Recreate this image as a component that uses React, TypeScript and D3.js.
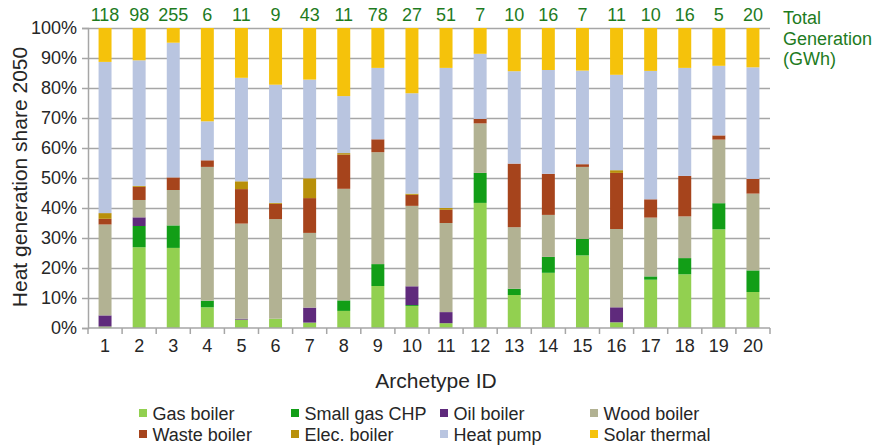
import React, { useRef, useEffect } from 'react';
import * as d3 from 'd3';

const archetypes = d3.range(1, 21).map(String);
const totals = [118, 98, 255, 6, 11, 9, 43, 11, 78, 27, 51, 7, 10, 16, 7, 11, 10, 16, 5, 20];

// shares in %
const gasBoiler = [0.5, 27, 26.7, 6.9, 2.8, 3.1, 1.8, 5.7, 14, 7.4, 1.6, 41.7, 11, 18.4, 24.2, 1.9, 16.1, 17.9, 32.9, 12];
const smallGasChp = [0, 7.1, 7.5, 2.2, 0, 0, 0, 3.5, 7.3, 0.3, 0, 10, 2.1, 5.3, 5.5, 0, 1.1, 5.4, 8.7, 7.2];
const oilBoiler = [3.7, 2.9, 0, 0, 0.3, 0, 5, 0, 0, 6.3, 3.7, 0, 0, 0, 0, 5, 0, 0, 0, 0];
const woodBoiler = [30.3, 5.8, 11.8, 44.6, 31.7, 33.2, 24.9, 37.2, 37.3, 27, 29.7, 16.5, 20.5, 14, 24, 26.1, 19.6, 13.9, 21.2, 25.6];
const wasteBoiler = [1.9, 4.4, 4.2, 2.2, 11.5, 5.1, 11.6, 11.4, 4.3, 3.7, 4.4, 1.5, 21.2, 13.7, 0.9, 18.7, 6.1, 13.5, 1.4, 4.9];
const elecBoiler = [1.9, 0.3, 0, 0, 2.6, 0.3, 6.6, 0.5, 0, 0.4, 0.6, 0, 0, 0, 0, 0.9, 0, 0, 0, 0];
const heatPump = [50.4, 42, 44.9, 13, 34.5, 39.4, 32.9, 19, 23.8, 33.7, 46.7, 21.7, 30.8, 34.6, 31.2, 31.8, 42.8, 36, 23.2, 37.2];
const solarThermal = [11.3, 10.8, 4.9, 31.1, 16.6, 18.9, 17.2, 22.7, 13.3, 21.9, 13.3, 8.6, 14.4, 14, 14.2, 15.6, 14.3, 13.3, 12.6, 13.1];

const seriesNames = ['Gas boiler', 'Small gas CHP', 'Oil boiler', 'Wood boiler', 'Waste boiler', 'Elec. boiler', 'Heat pump', 'Solar thermal'];
const seriesValues = [gasBoiler, smallGasChp, oilBoiler, woodBoiler, wasteBoiler, elecBoiler, heatPump, solarThermal];
const seriesColors = ['#92D050', '#129E17', '#5F2A7C', '#B2B293', '#A6441C', '#B8900A', '#B9C5E0', '#F5C20B'];

const FONT = '"Liberation Sans", Arial, sans-serif';
const TEXT = '#262626';
const GRID = '#A6A6A6';
const GREEN = '#1E7B1E';

export default function App() {
    const chartRef = useRef(null);
    const width = 880, height = 447;

    useEffect(() => {
        const margin = { top: 28, right: 110, bottom: 119, left: 88 };
        const svg = d3.select(chartRef.current);
        svg.selectAll('*').remove();

        const x = d3.scaleBand()
            .domain(archetypes)
            .range([margin.left, width - margin.right])
            .paddingInner(0.62)
            .paddingOuter(0.31);

        const y = d3.scaleLinear()
            .domain([0, 1])
            .range([height - margin.bottom, margin.top]);

        const rows = archetypes.map((a, i) => {
            const r: any = { id: a };
            seriesNames.forEach((s, j) => { r[s] = seriesValues[j][i]; });
            return r;
        });
        const stacked = d3.stack().keys(seriesNames).offset(d3.stackOffsetExpand)(rows);

        // gridlines + y axis
        const yAxis = d3.axisLeft(y).tickValues(d3.range(0, 1.01, 0.1))
            .tickFormat(d3.format('.0%'))
            .tickSize(6).tickPadding(5);
        const gy = svg.append('g').attr('transform', `translate(${margin.left},0)`).call(yAxis);
        gy.select('.domain').attr('stroke', GRID).attr('stroke-width', 1.5);
        gy.selectAll('.tick line').attr('stroke', GRID).attr('stroke-width', 1.5);
        gy.selectAll('.tick text').attr('fill', TEXT).style('font-size', '18px').style('font-family', FONT);
        gy.selectAll('.tick').filter((d: any) => d > 0).append('line')
            .attr('x1', 0).attr('x2', width - margin.right - margin.left)
            .attr('stroke', GRID).attr('stroke-width', 1.5);

        // bars
        svg.append('g').selectAll('g').data(stacked).join('g')
            .attr('fill', (d, i) => seriesColors[i])
            .selectAll('rect').data(d => d).join('rect')
            .attr('x', (d: any) => x(d.data.id))
            .attr('width', x.bandwidth())
            .attr('y', d => y(d[1]))
            .attr('height', d => Math.max(0, y(d[0]) - y(d[1])));

        // x axis with ticks at band boundaries
        const xEdge = d3.scaleLinear().domain([0, 20]).range([margin.left, width - margin.right]);
        const gx = svg.append('g').attr('transform', `translate(0,${height - margin.bottom})`);
        gx.append('line').attr('x1', margin.left).attr('x2', width - margin.right)
            .attr('stroke', GRID).attr('stroke-width', 1.5);
        gx.selectAll('line.tk').data(d3.range(0, 21)).join('line').attr('class', 'tk')
            .attr('x1', d => xEdge(d)).attr('x2', d => xEdge(d))
            .attr('y1', 0).attr('y2', 6)
            .attr('stroke', GRID).attr('stroke-width', 1.5);
        gx.selectAll('text').data(archetypes).join('text')
            .attr('x', d => x(d)! + x.bandwidth() / 2)
            .attr('y', 24)
            .attr('text-anchor', 'middle')
            .attr('fill', TEXT)
            .style('font-size', '18px').style('font-family', FONT)
            .text(d => d);

        // totals
        svg.append('g').selectAll('text').data(totals).join('text')
            .attr('x', (d, i) => x(archetypes[i])! + x.bandwidth() / 2)
            .attr('y', 21)
            .attr('text-anchor', 'middle')
            .attr('fill', GREEN)
            .style('font-size', '18px').style('font-family', FONT)
            .text(d => d);

        svg.append('text')
            .attr('x', 783).attr('y', 24)
            .attr('fill', GREEN)
            .style('font-size', '18px').style('font-family', FONT)
            .selectAll('tspan').data(['Total', 'Generation', '(GWh)']).join('tspan')
            .attr('x', 783).attr('dy', (d, i) => i === 0 ? 0 : 20.5)
            .text(d => d);

        // axis titles
        svg.append('text')
            .attr('transform', `translate(${436},${388})`)
            .attr('text-anchor', 'middle')
            .attr('fill', TEXT)
            .style('font-size', '21px').style('font-family', FONT)
            .text('Archetype ID');

        svg.append('text')
            .attr('transform', `translate(${27},${177}) rotate(-90)`)
            .attr('text-anchor', 'middle')
            .attr('fill', TEXT)
            .style('font-size', '21px').style('font-family', FONT)
            .text('Heat generation share 2050');

        // legend
        const legendX = [139, 291, 440, 590];
        const legend = svg.append('g').selectAll('g').data(seriesNames).join('g')
            .attr('transform', (d, i) => `translate(${legendX[i % 4]},${409 + Math.floor(i / 4) * 21})`);
        legend.append('rect').attr('width', 8).attr('height', 8)
            .attr('fill', (d, i) => seriesColors[i]);
        legend.append('text').attr('x', 13.5).attr('y', 10.5)
            .attr('fill', TEXT)
            .style('font-size', '18px').style('font-family', FONT)
            .text(d => d);
    }, []);

    return (
        <svg width={width} height={height} ref={chartRef}
            style={{ position: 'absolute', left: 0, top: 0, background: '#fff' }} />
    );
}
